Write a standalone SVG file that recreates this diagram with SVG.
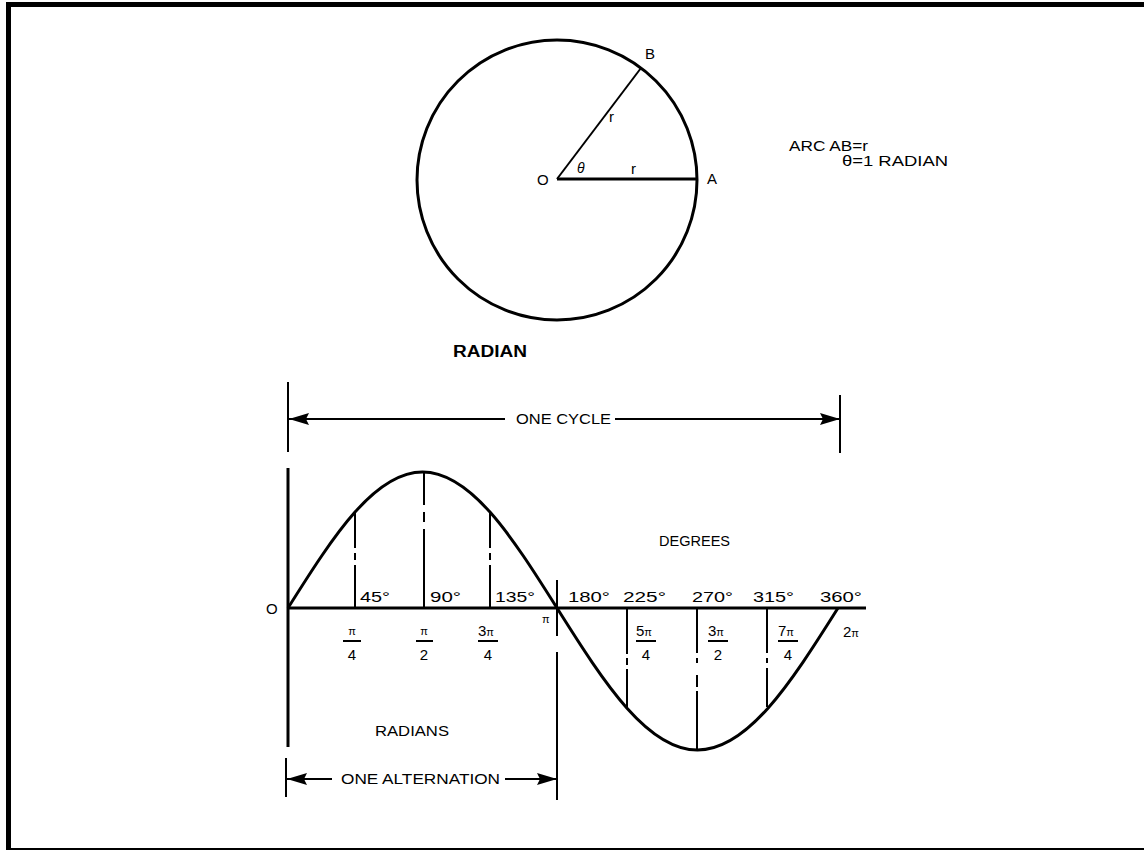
<svg xmlns="http://www.w3.org/2000/svg" width="1144" height="850" viewBox="0 0 1144 850">
<style>
.ln{stroke:#000;fill:none;stroke-linecap:butt}
.thick{stroke-width:3}
.thin{stroke-width:2}
.t{font-family:"Liberation Sans",Arial,sans-serif;font-size:15px;fill:#000}
.s{font-family:"Liberation Sans",Arial,sans-serif;font-size:14px;fill:#000}
.pi{font-family:"Liberation Sans",Arial,sans-serif;font-size:11px;fill:#000}
.b{font-family:"Liberation Sans",Arial,sans-serif;font-size:16px;font-weight:bold;fill:#000}
</style>
<defs>
<marker id="arr" viewBox="0 0 20 12" refX="20" refY="6" markerWidth="20" markerHeight="12" markerUnits="userSpaceOnUse" orient="auto-start-reverse">
<path d="M0,0 L20,6 L0,12 L3,6 Z" fill="#000"/>
</marker>
</defs>
<rect x="0" y="0" width="1144" height="850" fill="#fff"/>
<g id="frame">
<rect x="8.5" y="4.5" width="1200" height="846" fill="none" stroke="#000" stroke-width="5"/>
</g>

<g id="radian-circle">
<circle class="ln thick" cx="557" cy="180" r="140"/>
<line class="ln thick" x1="557" y1="179" x2="698" y2="179"/>
<line class="ln thin" x1="557" y1="179" x2="641" y2="68"/>
<text class="t" x="537" y="185">O</text>
<text class="t" x="645" y="59">B</text>
<text class="t" x="707" y="184">A</text>
<text class="t" x="609" y="122">r</text>
<text class="t" x="631" y="174">r</text>
<text class="s" x="577" y="173" font-size="13" font-style="italic">θ</text>
<text class="b" x="453" y="357" textLength="74" lengthAdjust="spacingAndGlyphs">RADIAN</text>
</g>

<g id="definition">
<text class="t" x="789" y="151" textLength="79" lengthAdjust="spacingAndGlyphs">ARC AB=r</text>
<text class="t" x="842" y="166" textLength="106" lengthAdjust="spacingAndGlyphs">θ=1 RADIAN</text>
</g>

<g id="connectors">
<line class="ln thin" x1="288" y1="382" x2="288" y2="452"/>
<line class="ln thin" x1="840" y1="395" x2="840" y2="453"/>
<line class="ln thin" x1="289" y1="419" x2="505" y2="419" marker-start="url(#arr)"/>
<line class="ln thin" x1="615" y1="419" x2="840" y2="419" marker-end="url(#arr)"/>
<line class="ln thin" x1="286" y1="758" x2="286" y2="797"/>
<line class="ln thin" x1="287" y1="779" x2="332" y2="779" marker-start="url(#arr)"/>
<line class="ln thin" x1="505" y1="779" x2="557" y2="779" marker-end="url(#arr)"/>
</g>

<g id="dimension-labels">
<text class="t" x="516" y="424" textLength="95" lengthAdjust="spacingAndGlyphs">ONE CYCLE</text>
<text class="t" x="341" y="784" textLength="159" lengthAdjust="spacingAndGlyphs">ONE ALTERNATION</text>
</g>

<g id="axes">
<line class="ln thick" x1="288" y1="468" x2="288" y2="747"/>
<line class="ln thick" x1="288" y1="608" x2="866" y2="608"/>
<text class="t" x="266" y="614">O</text>
</g>

<g id="sine-wave">
<path class="ln thick" stroke-linejoin="round" d="M288,608 C310.42,572.40 332.83,537.00 355.25,511.83 C377.67,486.66 400.08,472 422.5,472 C444.92,472 467.33,486.66 489.75,511.83 C512.17,537.00 534.58,572.40 557,608 C580.42,645.18 603.83,682.12 627.25,708.41 C650.67,734.70 674.08,750 697.5,750 C720.92,750 744.33,734.70 767.75,708.41 C791.17,682.12 814.58,645.18 838,608"/>
</g>

<g id="ordinates">
<path class="ln thin" d="M355,512 V548 M355,553 V560 M355,565 V608"/>
<path class="ln thin" d="M424,472 V505 M424,512 V522 M424,529 V608"/>
<path class="ln thin" d="M490,512 V548 M490,553 V560 M490,565 V608"/>
<path class="ln thin" d="M557,580 V636 M557,652 V800"/>
<path class="ln thin" d="M627,608 V654 M627,658 V665 M627,669 V707"/>
<path class="ln thin" d="M697,608 V653 M697,658 V663 M697,675 V687 M697,691 V750"/>
<path class="ln thin" d="M767,608 V653 M767,658 V663 M767,668 V707"/>
</g>

<g id="degree-labels">
<text class="t" x="360" y="602" textLength="30" lengthAdjust="spacingAndGlyphs">45°</text>
<text class="t" x="430" y="602" textLength="31" lengthAdjust="spacingAndGlyphs">90°</text>
<text class="t" x="495" y="602" textLength="40" lengthAdjust="spacingAndGlyphs">135°</text>
<text class="t" x="568" y="602" textLength="42" lengthAdjust="spacingAndGlyphs">180°</text>
<text class="t" x="623" y="602" textLength="43" lengthAdjust="spacingAndGlyphs">225°</text>
<text class="t" x="692" y="602" textLength="41" lengthAdjust="spacingAndGlyphs">270°</text>
<text class="t" x="753" y="602" textLength="41" lengthAdjust="spacingAndGlyphs">315°</text>
<text class="t" x="820" y="602" textLength="42" lengthAdjust="spacingAndGlyphs">360°</text>
<text class="t" x="659" y="546" textLength="71" lengthAdjust="spacingAndGlyphs">DEGREES</text>
</g>

<g id="radian-labels">
<text class="pi" x="542" y="623">π</text>
<g id="f-pi4">
<text class="pi" x="352" y="635" text-anchor="middle">π</text>
<line class="ln thin" x1="343" y1="641" x2="361" y2="641"/>
<text class="t" x="352" y="660" text-anchor="middle">4</text>
</g>
<g id="f-pi2">
<text class="pi" x="424" y="635" text-anchor="middle">π</text>
<line class="ln thin" x1="416" y1="641" x2="433" y2="641"/>
<text class="t" x="424" y="660" text-anchor="middle">2</text>
</g>
<g id="f-3pi4">
<text class="t" x="478" y="636">3<tspan class="pi">π</tspan></text>
<line class="ln thin" x1="478" y1="641" x2="498" y2="641"/>
<text class="t" x="488" y="660" text-anchor="middle">4</text>
</g>
<g id="f-5pi4">
<text class="t" x="636" y="636">5<tspan class="pi">π</tspan></text>
<line class="ln thin" x1="636" y1="641" x2="656" y2="641"/>
<text class="t" x="646" y="660" text-anchor="middle">4</text>
</g>
<g id="f-3pi2">
<text class="t" x="708" y="636">3<tspan class="pi">π</tspan></text>
<line class="ln thin" x1="708" y1="641" x2="728" y2="641"/>
<text class="t" x="718" y="660" text-anchor="middle">2</text>
</g>
<g id="f-7pi4">
<text class="t" x="778" y="636">7<tspan class="pi">π</tspan></text>
<line class="ln thin" x1="778" y1="641" x2="798" y2="641"/>
<text class="t" x="788" y="660" text-anchor="middle">4</text>
</g>
<text class="t" x="843" y="637">2<tspan class="pi">π</tspan></text>
<text class="t" x="375" y="736" textLength="74" lengthAdjust="spacingAndGlyphs">RADIANS</text>
</g>
</svg>
